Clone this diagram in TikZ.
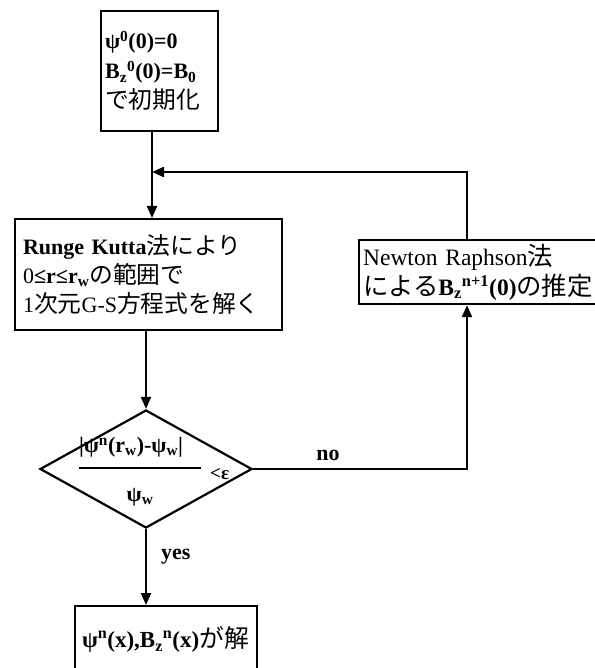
\documentclass[tikz,border=0pt]{standalone}
\usepackage{amsmath}
\usepackage{fontspec}
\setmainfont{Liberation Serif}
\newfontfamily\jpfont[Scale=1.08]{Noto Sans CJK JP}
\newcommand\J[1]{{\jpfont\mdseries #1}}
\newcommand\bsb[1]{$_{\textbf{#1}}$}
\newcommand\bsp[1]{${}^{\textbf{#1}}$}
\usetikzlibrary{arrows.meta,shapes.geometric}
\begin{document}
\begin{tikzpicture}[x=1pt,y=-1pt,
  every node/.style={font=\fontsize{22}{29}\selectfont, inner sep=0pt},
  box/.style={draw, line width=2.2pt, anchor=north west, align=left, inner xsep=5pt},
  conn/.style={line width=2.2pt},
  arr/.style={conn,-{Triangle[length=12pt,width=10pt]}},
  lbl/.style={font=\fontsize{22}{26}\selectfont\bfseries}]
\useasboundingbox (0,0) rectangle (594,668);

% boxes
\node[box, text width=109pt, inner xsep=4pt, minimum height=120pt, font=\fontsize{22}{30}\selectfont] (init) at (100,10)
  {\textbf{ψ\bsp{0}(0)=0}\\
   \textbf{B\bsb{z}\bsp{0}(0)=B\bsb{0}}\\
   \J{で初期化}};

\node[box, text width=251pt, inner xsep=8pt, minimum height=111pt] (rk) at (14,218)
  {\textbf{Runge Kutta}\J{法により}\\
   0\textbf{≤r≤r\bsb{w}}\J{の範囲で}\\
   1\J{次元}G-S\J{方程式を解く}};

\node[box, text width=230pt, inner xsep=4pt, minimum height=64pt, font=\fontsize{23.5}{30}\selectfont] (nr) at (358,239)
  {Newton Raphson\J{法}\\
   \J{による}\textbf{B\bsb{z}\bsp{n+1}(0)}\J{の推定}};

\node[draw, diamond, line width=2.2pt, minimum width=212pt, minimum height=118pt] (dec) at (146,469) {};

\node (frac) at (140,472)
  {$\genfrac{}{}{2pt}{0}{\makebox[122pt][l]{\text{\bfseries |ψ\textsuperscript{n}(r\bsb{w})-ψ\bsb{w}|}\rule[-8pt]{0pt}{8pt}}}{\text{\bfseries\rule{0pt}{27pt}ψ\bsb{w}}}$};
\node[anchor=west, font=\fontsize{19}{22}\selectfont\bfseries] (lt) at (210,474) {<ε};

\node[box, text width=168pt, inner xsep=7pt, minimum height=67pt, font=\fontsize{23}{29}\selectfont] (res) at (74,605)
  {\textbf{ψ\bsp{n}(x),B\bsb{z}\bsp{n}(x)}\J{が解}};

% connectors
\coordinate (j) at (152,172);
\coordinate (fb) at (467,172);
\draw[arr] (init.south -| j) -- (rk.north -| j);
\draw[arr] (nr.north -| fb) -- (fb) -- (j);
\draw[arr] (rk.south -| dec.north) -- (dec.north);
\draw[arr] (dec.east) -- (dec.east -| fb) node[lbl, pos=0.35, above=7pt] {no} -- (nr.south -| fb);
\draw[arr] (dec.south) -- (res.north -| dec.south) node[lbl, pos=0.36, right=14pt] {yes};
\end{tikzpicture}
\end{document}
